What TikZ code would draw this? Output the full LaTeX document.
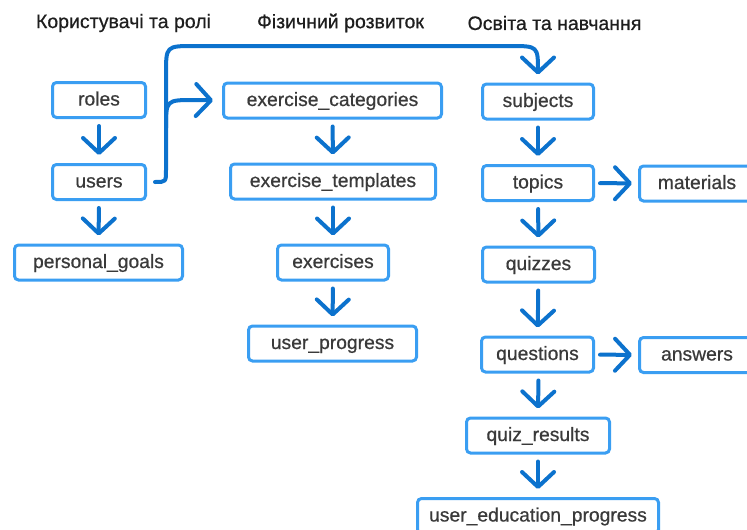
\documentclass[tikz,border=0pt]{standalone}
\usepackage{fontspec}
\setmainfont{Liberation Sans}
\newfontfamily\labelfont{Liberation Sans}[FakeBold=0.6]
\usetikzlibrary{arrows.meta}
\definecolor{boxblue}{RGB}{58,158,242}
\definecolor{arrowblue}{RGB}{12,114,205}
\definecolor{labelgray}{RGB}{58,58,58}
\definecolor{headgray}{RGB}{30,30,30}
\tikzset{
  table/.style={draw=boxblue, line width=3pt, rounded corners=4pt, fill=white,
    minimum height=35pt, inner sep=0pt, text=labelgray,
    text height=14pt, text depth=3pt,
    font=\labelfont\fontsize{19.3}{21}\selectfont},
  header/.style={text=headgray, font=\labelfont\fontsize{19.5}{21}\selectfont, inner sep=0pt},
  conn/.style={draw=arrowblue, line width=4pt, line cap=round, line join=round,
    -{Straight Barb[length=15pt,width=32pt,line cap=round,line join=round]}},
  down/.style={conn, shorten <=7pt, shorten >=8pt},
  right/.style={conn, shorten <=5pt, shorten >=6pt}
}
\begin{document}
\begin{tikzpicture}[x=1pt,y=-1pt]
\useasboundingbox (0,0) rectangle (747,530);

% column headers
\node[header] (h1) at (123.5,23) {Користувачі та ролі};
\node[header] (h2) at (340.5,23) {Фізичний розвиток};
\node[header] (h3) at (554.5,23) {Освіта та навчання};

% users and roles
\node[table, minimum width=93pt]  (roles) at (99,100) {roles};
\node[table, minimum width=93pt]  (users) at (99,182) {users};
\node[table, minimum width=168pt] (goals) at (98.5,262.5) {personal\_goals};

% physical development
\node[table, minimum width=218pt] (excat)  at (332.5,100.5) {exercise\_categories};
\node[table, minimum width=205pt] (extpl)  at (333,181.5)   {exercise\_templates};
\node[table, minimum width=111pt] (ex)     at (333,262.5)   {exercises};
\node[table, minimum width=168pt] (uprog)  at (332.5,343.5) {user\_progress};

% education
\node[table, minimum width=111pt] (subj)   at (538,101.5) {subjects};
\node[table, minimum width=111pt] (topics) at (538,183)   {topics};
\node[table, minimum width=115pt] (mat)    at (697,183.5) {materials};
\node[table, minimum width=112pt] (quiz)   at (538.5,264.5) {quizzes};
\node[table, minimum width=112pt] (quest)  at (537.5,354.5) {questions};
\node[table, minimum width=115pt] (ans)    at (697,355)   {answers};
\node[table, minimum width=143pt] (qres)   at (538,435.5) {quiz\_results};
\node[table, minimum width=241pt] (uedu)   at (538,516)   {user\_education\_progress};

% vertical links
\draw[down] (roles) -- (users);
\draw[down] (users) -- (goals);
\draw[down] (excat) -- (extpl);
\draw[down] (extpl) -- (ex);
\draw[down] (ex) -- (uprog);
\draw[down] (subj) -- (topics);
\draw[down] (topics) -- (quiz);
\draw[down] (quiz) -- (quest);
\draw[down] ([xshift=1pt]quest.south) -- (qres.north);
\draw[down] (qres) -- (uedu);

% horizontal links
\draw[right] (topics) -- (mat);
\draw[right] (quest) -- (ans);

% users to subjects, with a branch to exercise_categories
\coordinate (fork) at (166,128);
\draw[conn, shorten >=8pt]
  ([xshift=8pt]users.east) .. controls (166,182) .. (166,170)
  -- (166,74) .. controls (166,46) .. (194,46)
  -- (510,46) .. controls (538,46) .. (538,72) -- (subj.north);
\draw[conn, shorten >=9pt]
  (fork) .. controls (166,100) .. (194,100) -- (excat.west);
\end{tikzpicture}
\end{document}
